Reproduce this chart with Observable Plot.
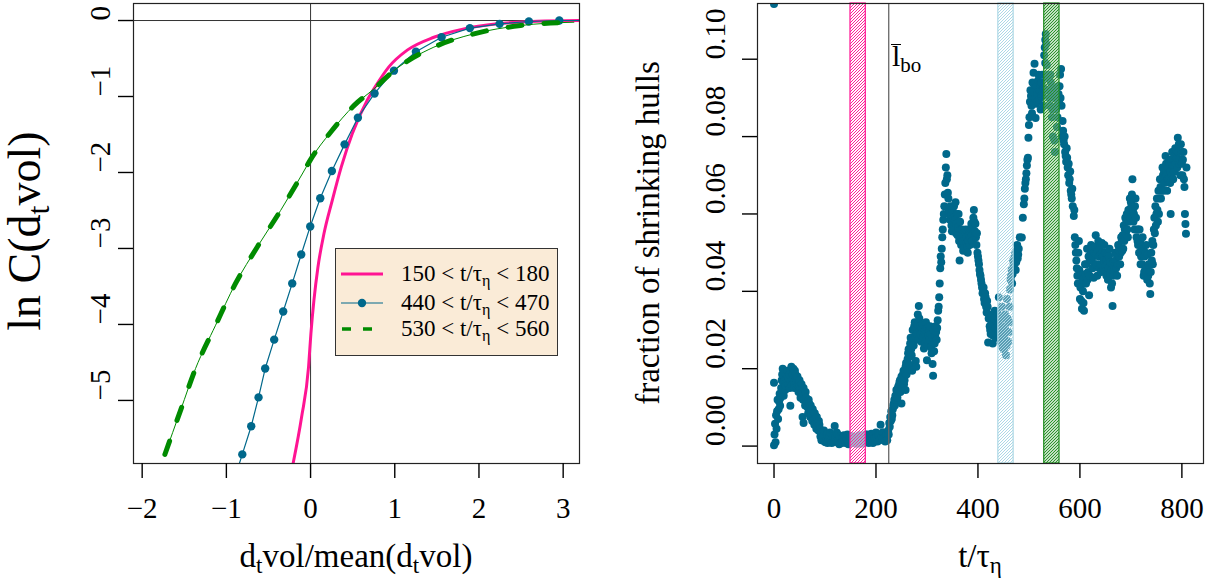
<!DOCTYPE html>
<html>
<head>
<meta charset="utf-8">
<script src="https://cdn.jsdelivr.net/npm/d3@7"></script>
<script src="https://cdn.jsdelivr.net/npm/@observablehq/plot@0.6"></script>
<style>
  html, body { margin: 0; padding: 0; background: #fff; }
  body { font-family: "Liberation Serif", "Times New Roman", serif; color: #000; }
  #wrap { position: relative; width: 1219px; height: 584px; overflow: hidden; background: #fff; }
  #left, #right { position: absolute; top: 0; }
  #left { left: 0; }
  #right { left: 600px; }
  .abs { position: absolute; white-space: nowrap; line-height: 1; color: #000; }
  .title { font-size: 33px; transform: translate(-50%, -50%); }
  .rot { transform: translate(-50%, -50%) rotate(-90deg); }
  sub { font-size: 70%; vertical-align: -0.28em; line-height: 0; }
  #legend { background: #FAEBD7; border: 1.5px solid #333; box-sizing: border-box; font-size: 23px; }
</style>
</head>
<body>
<svg width="0" height="0" style="position:absolute">
  <defs>
    <pattern id="hatchPink" patternUnits="userSpaceOnUse" width="3" height="3">
      <rect width="3" height="3" fill="#fff" fill-opacity="0.6"/>
      <path d="M-1,1 l2,-2 M0,3 l3,-3 M2,4 l2,-2" stroke="#FF1493" stroke-width="0.95"/>
    </pattern>
    <pattern id="hatchBlue" patternUnits="userSpaceOnUse" width="3" height="3">
      <rect width="3" height="3" fill="#fff" fill-opacity="0.35"/>
      <path d="M-1,1 l2,-2 M0,3 l3,-3 M2,4 l2,-2" stroke="#ADD8E6" stroke-width="1"/>
    </pattern>
    <pattern id="hatchGreen" patternUnits="userSpaceOnUse" width="3" height="3">
      <rect width="3" height="3" fill="#fff" fill-opacity="0.35"/>
      <path d="M-1,1 l2,-2 M0,3 l3,-3 M2,4 l2,-2" stroke="#1E8C1E" stroke-width="1.05"/>
    </pattern>
  </defs>
</svg>
<div id="wrap">
  <div id="left"></div>
  <div id="right"></div>

  <div class="abs title rot" style="left:25px; top:231px; font-size:46px;">ln C(d<sub>t</sub>vol)</div>
  <div class="abs title" style="left:356px; top:556px;">d<sub>t</sub>vol/mean(d<sub>t</sub>vol)</div>
  <div class="abs title rot" style="left:648px; top:233px;">fraction of shrinking hulls</div>
  <div class="abs title" style="left:980px; top:556px;">t/τ<sub>η</sub></div>

  <div class="abs" style="left:892px; top:41px; font-size:30px;"><span style="position:relative; display:inline-block;">l<span style="position:absolute; left:-1px; width:10px; top:3px; border-top:1.6px solid #000;"></span></span><sub style="font-size:21px">bo</sub></div>

  <div id="legend" class="abs" style="left:335px; top:248px; width:223px; height:108px;">
    <svg width="64" height="106" style="position:absolute; left:0; top:0;">
      <line x1="5" x2="47" y1="25" y2="25" stroke="#FF1493" stroke-width="3"/>
      <line x1="5" x2="47" y1="54" y2="54" stroke="#00688B" stroke-width="1.2"/>
      <circle cx="26" cy="54" r="4.2" fill="#00688B"/>
      <line x1="6" x2="47" y1="80" y2="80" stroke="#008B00" stroke-width="3.5" stroke-dasharray="9,12"/>
    </svg>
    <div class="abs" style="left:65px; top:13px;">150 &lt; t/τ<sub>η</sub> &lt; 180</div>
    <div class="abs" style="left:65px; top:42px;">440 &lt; t/τ<sub>η</sub> &lt; 470</div>
    <div class="abs" style="left:65px; top:68px;">530 &lt; t/τ<sub>η</sub> &lt; 560</div>
  </div>
</div>

<script>
// ---------------- Left panel data: ln C(d_t vol) ----------------
const xTicksLeft = [-2, -1, 0, 1, 2, 3];
const yTicksLeft = [0, -1, -2, -3, -4, -5];

// 150 < t/tau < 180
const pinkX = [-0.206, -0.107, -0.024, 0.004, 0.040, 0.087, 0.158, 0.257, 0.364, 0.495, 0.673, 0.792, 0.930, 1.148, 1.465, 1.821, 2.217, 2.692, 3.200];
const pinkY = [-5.82, -5.22, -4.56, -4.12, -3.68, -3.25, -2.81, -2.37, -1.93, -1.49, -1.05, -0.83, -0.61, -0.39, -0.22, -0.11, -0.044, -0.009, 0.000];

// 440 < t/tau < 470
const blueX = [-0.918, -0.811, -0.705, -0.618, -0.539, -0.432, -0.325, -0.218, -0.111, -0.004, 0.115, 0.253, 0.404, 0.562, 0.760, 0.990, 1.251, 1.556, 1.892, 2.245, 2.593, 2.954, 3.310];
const blueY = [-6.08, -5.71, -5.34, -4.96, -4.58, -4.20, -3.83, -3.46, -3.08, -2.71, -2.34, -1.98, -1.63, -1.28, -0.96, -0.66, -0.41, -0.22, -0.10, -0.044, -0.013, 0.000, 0.000];

// 530 < t/tau < 560
const greenX = [-1.730, -1.544, -1.366, -1.128, -0.891, -0.633, -0.356, -0.099, 0.000, 0.238, 0.515, 0.752, 0.990, 1.465, 1.940, 2.494, 3.127];
const greenY = [-5.71, -5.13, -4.58, -4.01, -3.46, -2.98, -2.50, -2.02, -1.83, -1.47, -1.12, -0.90, -0.66, -0.35, -0.175, -0.066, -0.022];

// ---------------- Right panel data: fraction of shrinking hulls ----------------
const xTicksRight = [0, 200, 400, 600, 800];
const yTicksRight = [0.00, 0.02, 0.04, 0.06, 0.08, 0.10];
const lboTime = [225];
const bandFrom = [150, 440, 530];
const bandTo = [180, 470, 560];

const hullTime = [
  0, 0, 0, 1, 2, 3, 4, 6, 8, 10, 12,
  14, 16, 18, 20, 22, 24, 26, 28, 30, 32, 34, 36, 38, 40, 42, 44,
  19, 27, 35, 41,
  46, 48, 50, 52, 54, 56, 56, 58, 58, 60, 62, 64,
  66, 68, 70, 72, 74, 76, 78, 80, 82, 84, 86, 88, 90,
  92, 95, 98, 101, 104, 107, 110, 113, 116, 119, 122, 125, 128, 131, 134, 137, 140,
  143, 146, 149, 152, 155, 158, 161, 164, 167, 170, 173, 176, 179, 182, 185, 188, 191, 194, 197, 200, 203, 206,
  209, 212, 215, 218, 221, 224,
  226, 228, 230, 232, 234, 236,
  238, 240, 242, 244, 246, 248, 250, 250, 252, 254, 256, 258, 258, 260, 262,
  264, 266, 268, 270, 271, 272, 274, 276, 278, 279, 280, 282, 284, 286,
  288, 291, 294, 297, 300, 303, 306, 309, 312, 315, 318, 321,
  323, 324, 325, 326, 327, 328, 330, 332, 334, 336, 337, 338, 340,
  342, 344, 346, 348, 350, 352, 354, 356, 358, 360, 362, 364, 366,
  368, 371, 374, 377, 380, 383, 386, 389, 392, 395, 398,
  401, 403, 405, 407, 409, 411, 413, 415, 417, 419, 420, 421, 423,
  425, 427, 429, 431, 433, 435, 437, 439, 441, 443, 445, 447, 449, 451, 453, 455, 457, 459, 461,
  463, 465, 467, 469, 471, 473, 475, 477, 479,
  482, 486, 490, 492, 494, 495, 496, 498, 499,
  501, 503, 505, 507, 509, 511, 513, 515, 517, 519, 521, 523, 525, 527, 529,
  530, 531, 532, 533, 534, 535, 536, 538,
  539, 541, 543, 545, 547, 549, 551, 553, 555, 557, 559, 561, 563,
  565, 567, 569, 571, 573, 575, 577, 579, 581, 583, 585,
  588, 590, 592, 594, 596, 598, 600, 602, 604, 606, 608, 610, 612, 614, 616, 618, 620,
  622, 625, 627, 628, 631, 634, 636, 637, 640, 643, 645, 646, 649, 652, 652, 655, 658, 660, 661, 664, 667,
  670, 673, 676, 679, 682, 685, 688, 691, 694, 697, 700, 703, 706, 709, 712,
  714, 717, 720, 723, 726, 729, 732, 735, 738, 741, 744,
  747, 750, 753, 756, 758,
  760, 763, 766, 769, 772, 775, 778, 778, 781, 784, 787, 790, 792, 795, 798, 801, 803,
  805, 806, 807, 808, 809
];
const hullFraction = [
  0.1143, 0.0164, 0.0002, 0.0030, 0.0058, 0.0010, 0.0080, 0.0090, 0.0070, 0.0115, 0.0104,
  0.0150, 0.0185, 0.0165, 0.0190, 0.0145, 0.0175, 0.0195, 0.0160, 0.0185, 0.0104, 0.0205, 0.0175, 0.0200, 0.0150, 0.0185, 0.0165,
  0.0130, 0.0180, 0.0160, 0.0195,
  0.0180, 0.0140, 0.0170, 0.0125, 0.0160, 0.0135, 0.0075, 0.0150, 0.0060, 0.0120, 0.0140, 0.0110,
  0.0100, 0.0120, 0.0090, 0.0105, 0.0080, 0.0095, 0.0070, 0.0085, 0.0060, 0.0075, 0.0050, 0.0065, 0.0045,
  0.0035, 0.0020, 0.0040, 0.0010, 0.0030, 0.0015, 0.0035, 0.0008, 0.0025, 0.0052, 0.0012, 0.0030, 0.0005, 0.0020, 0.0010, 0.0028, 0.0008,
  0.0018, 0.0005, 0.0022, 0.0010, 0.0025, 0.0008, 0.0020, 0.0012, 0.0028, 0.0006, 0.0024, 0.0015, 0.0030, 0.0010, 0.0026, 0.0014, 0.0032, 0.0008, 0.0022, 0.0035, 0.0012, 0.0028,
  0.0055, 0.0018, 0.0035, 0.0012, 0.0030, 0.0040,
  0.0060, 0.0075, 0.0090, 0.0080, 0.0105, 0.0120,
  0.0130, 0.0145, 0.0125, 0.0155, 0.0165, 0.0140, 0.0180, 0.0110, 0.0150, 0.0195, 0.0170, 0.0205, 0.0145, 0.0185, 0.0225,
  0.0250, 0.0210, 0.0280, 0.0235, 0.0195, 0.0300, 0.0260, 0.0320, 0.0220, 0.0205, 0.0290, 0.0340, 0.0362, 0.0300,
  0.0290, 0.0315, 0.0252, 0.0300, 0.0222, 0.0285, 0.0310, 0.0240, 0.0182, 0.0265, 0.0295, 0.0325,
  0.0360, 0.0385, 0.0420, 0.0460, 0.0490, 0.0475, 0.0540, 0.0585, 0.0620, 0.0680, 0.0720, 0.0755, 0.0700,
  0.0640, 0.0600, 0.0620, 0.0570, 0.0610, 0.0590, 0.0560, 0.0630, 0.0575, 0.0545, 0.0600, 0.0480, 0.0560,
  0.0540, 0.0505, 0.0555, 0.0525, 0.0500, 0.0545, 0.0560, 0.0530, 0.0610, 0.0575, 0.0550,
  0.0480, 0.0455, 0.0440, 0.0420, 0.0395, 0.0410, 0.0370, 0.0385, 0.0345, 0.0360, 0.0268, 0.0330, 0.0310,
  0.0290, 0.0335, 0.0265, 0.0310, 0.0350, 0.0280, 0.0320, 0.0300, 0.0385, 0.0330, 0.0270, 0.0360, 0.0295, 0.0250, 0.0340, 0.0235, 0.0380, 0.0270, 0.0320,
  0.0405, 0.0440, 0.0420, 0.0480, 0.0460, 0.0500, 0.0475, 0.0520, 0.0495,
  0.0540, 0.0539, 0.0625, 0.0665, 0.0690, 0.0705, 0.0725, 0.0745, 0.0797,
  0.0850, 0.0920, 0.0880, 0.0940, 0.0965, 0.0988, 0.0848, 0.0930, 0.0890, 0.0960, 0.0920, 0.0870, 0.0940, 0.0905, 0.0925,
  0.1010, 0.1030, 0.1050, 0.1065, 0.1040, 0.0985, 0.0960, 0.0950,
  0.0920, 0.0880, 0.0940, 0.0850, 0.0800, 0.0900, 0.0760, 0.0870, 0.0825, 0.0930, 0.0890, 0.0960, 0.0975,
  0.0800, 0.0815, 0.0780, 0.0760, 0.0735, 0.0745, 0.0700, 0.0680, 0.0710, 0.0650, 0.0665,
  0.0595, 0.0540, 0.0500, 0.0460, 0.0420, 0.0530, 0.0380, 0.0440, 0.0355, 0.0400, 0.0350, 0.0470, 0.0420, 0.0510, 0.0450, 0.0390, 0.0480,
  0.0520, 0.0460, 0.0435, 0.0500, 0.0545, 0.0440, 0.0530, 0.0490, 0.0470, 0.0525, 0.0490, 0.0455, 0.0500, 0.0480, 0.0440, 0.0430, 0.0510, 0.0475, 0.0410, 0.0362, 0.0460,
  0.0480, 0.0440, 0.0505, 0.0470, 0.0530, 0.0510, 0.0560, 0.0580, 0.0540, 0.0610, 0.0630, 0.0690, 0.0600, 0.0640, 0.0560,
  0.0520, 0.0560, 0.0490, 0.0540, 0.0450, 0.0500, 0.0430, 0.0470, 0.0393, 0.0480, 0.0520,
  0.0550, 0.0600, 0.0580, 0.0640, 0.0670,
  0.0660, 0.0700, 0.0680, 0.0730, 0.0690, 0.0740, 0.0710, 0.0600, 0.0760, 0.0725, 0.0770, 0.0745, 0.0797, 0.0730, 0.0780, 0.0700, 0.0760,
  0.0670, 0.0600, 0.0574, 0.0549, 0.0720
];

// additional samples read between the ones above: [t/tau, fraction]
const hullExtra = [
  [5,0.0045],[7,0.0120],[9,0.0095],[11,0.0135],[13,0.0125],[15,0.0170],[17,0.0200],[21,0.0170],[23,0.0155],[25,0.0185],
  [29,0.0175],[31,0.0150],[33,0.0195],[37,0.0185],[39,0.0165],[43,0.0175],[45,0.0150],
  [47,0.0160],[49,0.0155],[51,0.0145],[53,0.0135],[55,0.0150],[57,0.0120],[59,0.0130],[61,0.0105],[63,0.0125],[65,0.0115],
  [67,0.0085],[69,0.0110],[71,0.0075],[73,0.0095],[75,0.0065],[77,0.0080],[79,0.0055],[81,0.0070],[83,0.0045],[85,0.0060],[87,0.0040],[89,0.0055],[91,0.0025],
  [93,0.0015],[96,0.0030],[99,0.0012],[102,0.0025],[105,0.0008],[108,0.0028],[111,0.0015],[114,0.0030],[117,0.0010],[120,0.0022],
  [123,0.0035],[126,0.0012],[129,0.0025],[132,0.0008],[135,0.0022],[138,0.0015],[141,0.0025],
  [144,0.0030],[147,0.0012],[150,0.0026],[153,0.0016],[156,0.0008],[159,0.0024],[162,0.0006],[165,0.0018],[168,0.0010],[171,0.0022],
  [174,0.0008],[177,0.0026],[180,0.0018],[183,0.0030],[186,0.0008],[189,0.0025],[192,0.0015],[195,0.0028],[198,0.0012],[201,0.0024],
  [204,0.0030],[207,0.0015],
  [210,0.0025],[213,0.0035],[216,0.0022],[219,0.0028],[222,0.0015],[225,0.0030],[227,0.0050],[229,0.0065],[231,0.0070],[233,0.0095],
  [235,0.0110],[237,0.0105],
  [239,0.0120],[241,0.0135],[243,0.0150],[245,0.0140],[247,0.0170],[249,0.0160],[251,0.0175],[253,0.0185],[255,0.0160],[257,0.0190],
  [259,0.0215],[261,0.0200],[263,0.0240],
  [265,0.0230],[267,0.0265],[269,0.0250],[273,0.0275],[275,0.0310],[277,0.0285],[281,0.0315],[283,0.0275],[285,0.0330],[287,0.0310],
  [289,0.0270],[290,0.0305],[292,0.0280],[295,0.0295],[296,0.0265],[298,0.0320],[299,0.0275],[301,0.0305],[302,0.0260],[304,0.0300],
  [305,0.0275],[307,0.0290],[308,0.0255],[310,0.0280],[311,0.0212],[313,0.0300],[314,0.0245],[316,0.0285],[317,0.0310],[319,0.0275],
  [320,0.0305],[322,0.0350],
  [329,0.0510],[331,0.0560],[333,0.0600],[335,0.0650],[339,0.0690],[341,0.0655],[343,0.0610],[345,0.0585],[347,0.0600],[349,0.0555],
  [351,0.0580],[353,0.0620],[355,0.0585],[357,0.0550],[359,0.0600],[361,0.0565],[363,0.0530],[365,0.0580],[367,0.0520],
  [369,0.0560],[370,0.0530],[372,0.0545],[373,0.0510],[375,0.0535],[376,0.0560],[378,0.0540],[379,0.0515],[381,0.0530],[382,0.0560],
  [384,0.0520],[385,0.0540],[387,0.0575],[388,0.0545],[390,0.0560],[391,0.0590],[393,0.0580],[394,0.0555],[396,0.0540],[397,0.0520],
  [399,0.0500],[400,0.0490],
  [402,0.0470],[404,0.0445],[406,0.0430],[408,0.0410],[410,0.0400],[412,0.0380],[414,0.0395],[416,0.0360],[418,0.0375],[422,0.0340],
  [424,0.0300],
  [426,0.0315],[428,0.0300],[430,0.0285],[432,0.0330],[434,0.0305],[436,0.0290],[438,0.0345],[440,0.0315],[442,0.0285],[444,0.0310],
  [446,0.0330],[448,0.0255],[450,0.0310],[452,0.0280],[454,0.0300],[456,0.0260],[458,0.0330],[460,0.0295],[462,0.0360],
  [464,0.0430],[466,0.0455],[468,0.0445],[470,0.0470],[472,0.0490],[474,0.0455],[476,0.0505],[478,0.0485],[480,0.0510],[488,0.0590],
  [491,0.0640],[493,0.0680],[497,0.0740],
  [500,0.0830],[502,0.0890],[504,0.0905],[506,0.0860],[508,0.0915],[510,0.0935],[512,0.0900],[514,0.0885],[516,0.0910],[518,0.0945],
  [520,0.0895],[522,0.0935],[524,0.0905],[526,0.0960],[528,0.0880],
  [532,0.0990],[534,0.0955],[537,0.0920],[540,0.0900],[542,0.0960],[544,0.0905],[546,0.0870],[548,0.0925],[550,0.0790],[552,0.0905],
  [554,0.0880],[556,0.0850],[558,0.0910],[560,0.0930],[562,0.0900],[564,0.0880],
  [566,0.0840],[568,0.0790],[570,0.0800],[572,0.0750],[574,0.0770],[576,0.0720],[578,0.0730],[580,0.0690],[582,0.0660],[584,0.0640],
  [586,0.0620],[589,0.0610],[591,0.0520],
  [593,0.0480],[595,0.0440],[597,0.0500],[599,0.0455],[601,0.0410],[603,0.0375],[605,0.0430],[607,0.0370],[609,0.0420],[611,0.0445],
  [613,0.0470],[615,0.0430],[617,0.0490],[619,0.0440],[621,0.0500],
  [623,0.0480],[624,0.0510],[626,0.0490],[629,0.0470],[630,0.0515],[632,0.0495],[633,0.0470],[635,0.0505],[638,0.0460],[639,0.0510],
  [641,0.0495],[642,0.0450],[644,0.0500],[647,0.0480],[648,0.0520],[650,0.0465],[651,0.0500],[653,0.0470],[654,0.0495],[656,0.0460],
  [657,0.0490],[659,0.0445],[662,0.0455],[663,0.0420],[665,0.0440],[666,0.0475],[668,0.0450],[669,0.0500],
  [671,0.0460],[672,0.0495],[674,0.0470],[675,0.0520],[677,0.0490],[678,0.0510],[680,0.0500],[681,0.0540],[683,0.0505],[684,0.0545],
  [686,0.0570],[687,0.0530],[689,0.0590],[690,0.0550],[692,0.0600],[693,0.0560],[695,0.0610],[696,0.0580],[698,0.0640],[699,0.0590],
  [701,0.0620],[702,0.0650],[704,0.0610],[705,0.0580],[707,0.0560],[708,0.0620],[710,0.0590],[711,0.0540],
  [713,0.0530],[715,0.0560],[716,0.0500],[718,0.0530],[719,0.0470],[721,0.0515],[722,0.0470],[724,0.0510],[725,0.0440],[727,0.0490],
  [728,0.0455],[730,0.0520],[731,0.0460],[733,0.0495],[734,0.0440],[736,0.0450],[737,0.0420],[739,0.0450],[740,0.0500],[742,0.0530],
  [743,0.0470],[745,0.0560],[746,0.0590],
  [748,0.0620],[749,0.0570],[751,0.0640],[752,0.0610],[754,0.0660],[755,0.0600],[757,0.0690],[759,0.0640],[761,0.0690],[762,0.0720],
  [764,0.0660],[765,0.0710],[767,0.0700],[768,0.0750],[770,0.0700],[771,0.0660],[773,0.0720],[774,0.0690],[776,0.0730],[777,0.0680],
  [779,0.0740],[780,0.0700],[782,0.0725],[783,0.0690],[785,0.0750],[786,0.0710],[788,0.0730],[789,0.0765],[791,0.0720],[793,0.0760],
  [794,0.0780],[796,0.0740],[797,0.0700],[799,0.0760],[800,0.0730],[802,0.0740],[804,0.0690]
];

// ---------------- Styling ----------------
const PINK = "#FF1493", BLUE = "#00688B", GREEN = "#008B00";
const FONT = "Liberation Serif";
const TICK_FONT = 29;
const fmt = d => (d < 0 ? "\u2212" + Math.abs(d) : String(d));

const toRows = (xs, ys) => xs.map((x, i) => ({x, y: ys[i]}));
const pinkRows = toRows(pinkX, pinkY);
const blueRows = toRows(blueX, blueY);
const greenRows = toRows(greenX, greenY);
const n = Math.min(hullTime.length, hullFraction.length);
const hullRows = d3.range(n).map(i => ({t: hullTime[i], f: hullFraction[i]}))
  .concat(hullExtra.map(([t, f]) => ({t, f})))
  .sort((a, b) => a.t - b.t);

const baseStyle = {fontFamily: FONT, fontSize: TICK_FONT + "px", background: "transparent", color: "#000", overflow: "visible"};

const left = Plot.plot({
  width: 600, height: 584,
  marginLeft: 133, marginRight: 21, marginTop: 3, marginBottom: 121,
  x: {domain: [-2.103, 3.194]},
  y: {domain: [-5.83, 0.224]},
  style: baseStyle,
  marks: [
    Plot.ruleX([0], {stroke: "#333", strokeWidth: 1}),
    Plot.ruleY([0], {stroke: "#333", strokeWidth: 1}),
    Plot.line(pinkRows, {x: "x", y: "y", stroke: PINK, strokeWidth: 3, curve: "monotone-x", clip: true}),
    Plot.line(blueRows, {x: "x", y: "y", stroke: BLUE, strokeWidth: 1.2, clip: true}),
    Plot.dot(blueRows, {x: "x", y: "y", r: 4.2, fill: BLUE, stroke: "none", clip: true}),
    Plot.line(greenRows, {x: "x", y: "y", stroke: GREEN, strokeWidth: 1, curve: "monotone-x", clip: true}),
    Plot.line(greenRows, {x: "x", y: "y", stroke: GREEN, strokeWidth: 5, strokeDasharray: "14,22", strokeLinecap: "round", curve: "monotone-x", clip: true}),
    Plot.frame({stroke: "#222", strokeWidth: 1.2}),
    Plot.axisX({ticks: xTicksLeft, tickSize: 15, tickFormat: () => "", label: null, strokeWidth: 1.4}),
    Plot.axisY({ticks: yTicksLeft, tickSize: 15, tickFormat: () => "", label: null, strokeWidth: 1.4}),
    Plot.text(xTicksLeft, {x: d => d, text: fmt, frameAnchor: "bottom", dy: 54, fontSize: TICK_FONT}),
    Plot.text(yTicksLeft, {y: d => d, text: fmt, frameAnchor: "left", dx: -33, rotate: -90, fontSize: TICK_FONT})
  ]
});
document.getElementById("left").append(left);

const bandPatterns = ["url(#hatchPink)", "url(#hatchBlue)", "url(#hatchGreen)"];
const bandBorders = ["#FF1493", "#ADD8E6", "#1E8C1E"];

const right = Plot.plot({
  width: 619, height: 584,
  marginLeft: 157, marginRight: 16, marginTop: 3, marginBottom: 121,
  x: {domain: [-32.4, 842.4]},
  y: {domain: [-0.0045, 0.1144]},
  style: baseStyle,
  marks: [
    Plot.dot(hullRows, {x: "t", y: "f", r: 4, fill: BLUE, stroke: "none", clip: true}),
    Plot.ruleX(lboTime, {stroke: "#666", strokeWidth: 1.3}),
    ...bandFrom.map((b, i) => Plot.rect([i], {
      x1: j => bandFrom[j], x2: j => bandTo[j],
      fill: bandPatterns[i], stroke: bandBorders[i], strokeWidth: 1.2
    })),
    Plot.frame({stroke: "#222", strokeWidth: 1.2}),
    Plot.axisX({ticks: xTicksRight, tickSize: 15, tickFormat: () => "", label: null, strokeWidth: 1.4}),
    Plot.axisY({ticks: yTicksRight, tickSize: 15, tickFormat: () => "", label: null, strokeWidth: 1.4}),
    Plot.text(xTicksRight, {x: d => d, text: d => String(d), frameAnchor: "bottom", dy: 54, fontSize: TICK_FONT}),
    Plot.text(yTicksRight, {y: d => d, text: d => d.toFixed(2), frameAnchor: "left", dx: -42, rotate: -90, fontSize: TICK_FONT})
  ]
});
document.getElementById("right").append(right);
</script>
</body>
</html>
